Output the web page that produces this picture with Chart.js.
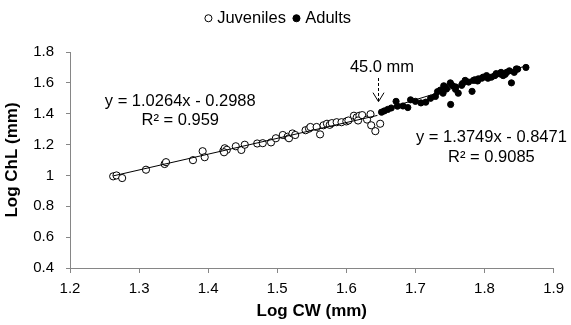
<!DOCTYPE html>
<html><head><meta charset="utf-8">
<script src="https://cdn.jsdelivr.net/npm/chart.js@4.4.0/dist/chart.umd.min.js"></script>
<style>html,body{margin:0;padding:0;background:#fff}</style>
</head><body>
<canvas id="c" width="571" height="325"></canvas>
<script>
// ---- data ----
const seriesNames = ['Juveniles', 'Adults'];
const juvCW = [1.2625,1.2673,1.2755,1.310,1.337,1.339,1.378,1.392,1.395,1.422,1.424,1.427,1.423,1.440,1.448,1.453,1.471,1.479,1.491,1.498,1.508,1.515,1.517,1.522,1.526,1.541,1.546,1.548,1.557,1.562,1.567,1.572,1.576,1.579,1.586,1.593,1.600,1.603,1.611,1.615,1.619,1.617,1.623,1.630,1.635,1.636,1.642,1.649];
const juvChL = [0.994,1.000,0.983,1.037,1.074,1.086,1.099,1.157,1.118,1.160,1.176,1.166,1.150,1.189,1.165,1.199,1.207,1.209,1.214,1.241,1.262,1.251,1.241,1.272,1.262,1.293,1.303,1.314,1.314,1.266,1.325,1.335,1.328,1.339,1.345,1.345,1.350,1.356,1.387,1.376,1.387,1.356,1.391,1.362,1.397,1.325,1.287,1.335];
const adCW = [1.651,1.655,1.660,1.665,1.672,1.674,1.682,1.689,1.693,1.700,1.708,1.715,1.722,1.729,1.732,1.736,1.740,1.741,1.743,1.745,1.751,1.7506,1.753,1.758,1.758,1.762,1.767,1.768,1.772,1.777,1.782,1.784,1.786,1.790,1.791,1.796,1.798,1.803,1.805,1.810,1.815,1.817,1.822,1.824,1.827,1.830,1.832,1.836,1.839,1.843,1.846,1.848,1.860];
const adChL = [1.410,1.418,1.428,1.437,1.480,1.449,1.450,1.440,1.490,1.480,1.470,1.475,1.500,1.512,1.543,1.553,1.533,1.581,1.574,1.560,1.460,1.600,1.584,1.574,1.558,1.533,1.584,1.595,1.616,1.605,1.545,1.616,1.620,1.612,1.626,1.630,1.637,1.647,1.630,1.637,1.647,1.660,1.658,1.668,1.647,1.655,1.668,1.678,1.600,1.668,1.690,1.689,1.700];
const juvFitCW = [1.2625, 1.645];
const juvFitChL = [0.997, 1.389];
const adFitCW = [1.648, 1.860];
const adFitChL = [1.419, 1.710];
const xTickValues = [1.2,1.3,1.4,1.5,1.6,1.7,1.8,1.9];
const xTickLabels = ['1.2','1.3','1.4','1.5','1.6','1.7','1.8','1.9'];
const yTickValues = [0.4,0.6,0.8,1.0,1.2,1.4,1.6,1.8];
const yTickLabels = ['0.4','0.6','0.8','1','1.2','1.4','1.6','1.8'];
const xTitle = 'Log CW (mm)';
const yTitle = 'Log ChL (mm)';
const eqJuv = ['y = 1.0264x - 0.2988', 'R\u00B2 = 0.959'];
const eqAd = ['y = 1.3749x - 0.8471', 'R\u00B2 = 0.9085'];
const cutoffLabel = '45.0 mm';
const cutoffLogCW = 1.6465;

const toPts = (xs, ys) => xs.map((x, i) => ({x: x, y: ys[i]}));
const FONT = '"Liberation Sans", Arial, sans-serif';
const AXIS = '#868686';

const annot = {
  id: 'annot',
  afterDatasetsDraw(chart) {
    const ctx = chart.ctx, xs = chart.scales.x, ys = chart.scales.y;
    ctx.save();
    ctx.fillStyle = '#000';
    ctx.font = '16.5px ' + FONT;
    ctx.textAlign = 'center';
    ctx.textBaseline = 'middle';
    ctx.fillText(eqJuv[0], xs.getPixelForValue(1.3596), ys.getPixelForValue(1.479));
    ctx.fillText(eqJuv[1], xs.getPixelForValue(1.3596), ys.getPixelForValue(1.356));
    ctx.fillText(eqAd[0], xs.getPixelForValue(1.810), ys.getPixelForValue(1.243));
    ctx.fillText(eqAd[1], xs.getPixelForValue(1.810), ys.getPixelForValue(1.119));
    ctx.fillText(cutoffLabel, xs.getPixelForValue(1.6516), ys.getPixelForValue(1.703));
    const ax = Math.round(xs.getPixelForValue(cutoffLogCW)) + 0.5;
    const y1 = ys.getPixelForValue(1.6315), y2 = ys.getPixelForValue(1.478);
    ctx.strokeStyle = '#000';
    ctx.lineWidth = 1;
    ctx.setLineDash([3, 2]);
    ctx.beginPath(); ctx.moveTo(ax, y1); ctx.lineTo(ax, y2); ctx.stroke();
    ctx.setLineDash([]);
    ctx.beginPath(); ctx.moveTo(ax - 5.5, y2 - 9); ctx.lineTo(ax, y2); ctx.lineTo(ax + 5.5, y2 - 9); ctx.stroke();
    ctx.restore();
  }
};

const legendSpace = {
  id: 'legendSpace',
  afterInit(chart) {
    const lg = chart.legend;
    if (!lg) return;
    const f = lg.fit;
    lg.fit = function () { f.call(this); this.height = 52; };
  }
};

new Chart(document.getElementById('c'), {
  type: 'scatter',
  data: {
    datasets: [
      { label: seriesNames[0], data: toPts(juvCW, juvChL), pointStyle: 'circle', pointRadius: 3.6, pointBorderWidth: 1,
        borderColor: '#000', backgroundColor: '#fff', order: 2 },
      { label: seriesNames[1], data: toPts(adCW, adChL), pointStyle: 'circle', pointRadius: 3.1, pointBorderWidth: 1,
        borderColor: '#000', backgroundColor: '#000', order: 2 },
      { label: 'fitJ', data: toPts(juvFitCW, juvFitChL), showLine: true, pointRadius: 0, borderColor: '#000', borderWidth: 1, order: 1 },
      { label: 'fitA', data: toPts(adFitCW, adFitChL), showLine: true, pointRadius: 0, borderColor: '#000', borderWidth: 1, order: 1 }
    ]
  },
  options: {
    responsive: false,
    devicePixelRatio: 1,
    animation: false,
    events: [],
    layout: { padding: { top: 0, right: 12, bottom: 0, left: 0 } },
    plugins: {
      tooltip: { enabled: false },
      legend: {
        display: true, position: 'top',
        labels: {
          usePointStyle: true, boxWidth: 1, boxHeight: 5, padding: 10, color: '#000',
          font: { family: FONT, size: 16.5 },
          filter: (item) => item.datasetIndex < 2
        }
      }
    },
    scales: {
      x: {
        type: 'linear', min: 1.2, max: 1.9,
        afterBuildTicks: (s) => { s.ticks = xTickValues.map(v => ({ value: v })); },
        afterFit: (s) => { s.height = 57; },
        ticks: { color: '#000', font: { family: FONT, size: 15 }, padding: 7,
          callback: (v, i) => xTickLabels[i] },
        grid: { drawOnChartArea: false, drawTicks: true, tickLength: 5, color: AXIS },
        border: { color: AXIS, width: 1 },
        title: { display: true, text: xTitle, color: '#000', font: { family: FONT, size: 17, weight: 'bold' }, padding: { top: 2, bottom: 3 } }
      },
      y: {
        type: 'linear', min: 0.4, max: 1.8,
        afterBuildTicks: (s) => { s.ticks = yTickValues.map(v => ({ value: v })); },
        afterFit: (s) => { s.width = 70; },
        ticks: { color: '#000', font: { family: FONT, size: 15 }, padding: 12,
          callback: (v, i) => yTickLabels[i] },
        grid: { drawOnChartArea: false, drawTicks: true, tickLength: 4, color: AXIS },
        border: { color: AXIS, width: 1 },
        title: { display: true, text: yTitle, color: '#000', font: { family: FONT, size: 17, weight: 'bold' }, padding: { top: 2, bottom: 0 } }
      }
    }
  },
  plugins: [legendSpace, annot]
});
</script>
</body></html>
